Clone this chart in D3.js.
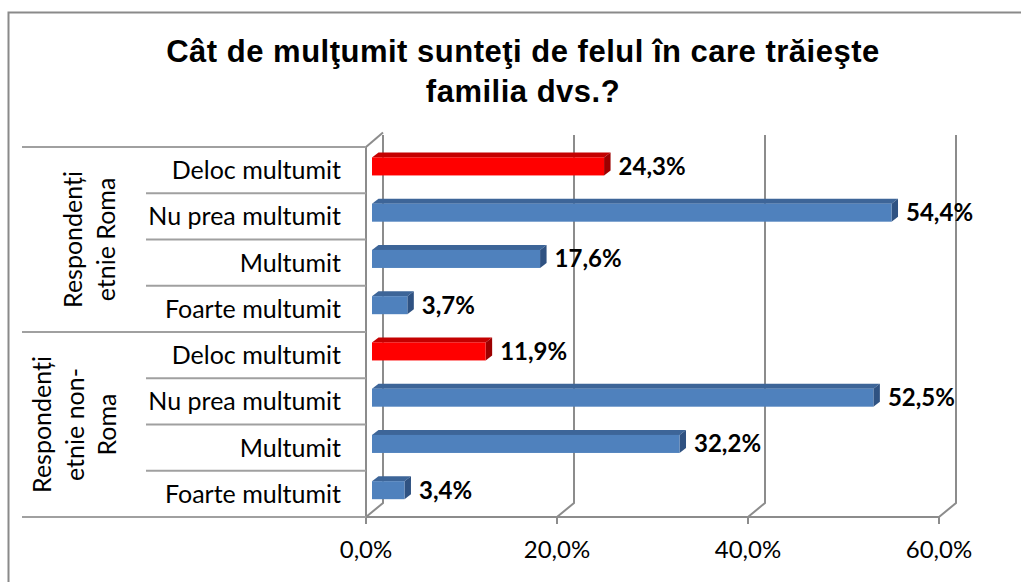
<!DOCTYPE html>
<html><head><meta charset="utf-8">
<script src="https://cdn.jsdelivr.net/npm/d3@7"></script>
<style>
html,body{margin:0;padding:0;background:#fff;}
svg{display:block;}
</style>
</head><body>
<svg id="chart" width="1021" height="582"></svg>
<script>
const titleLines = ["Cât de mulţumit sunteţi de felul în care trăieşte", "familia dvs.?"];
const groups = [["Respondenți", "etnie Roma"], ["Respondenți", "etnie non-", "Roma"]];
const categories = ["Deloc multumit", "Nu prea multumit", "Multumit", "Foarte multumit"];
const romaValues = [24.3, 54.4, 17.6, 3.7];
const nonRomaValues = [11.9, 52.5, 32.2, 3.4];
const xTicks = [0, 20, 40, 60];

(function () {
const rows = [];
[romaValues, nonRomaValues].forEach((vals, g) => {
  categories.forEach((c, i) => rows.push({key: g + "-" + i, group: g, cat: c, value: vals[i], red: i === 0}));
});

const svg = d3.select("#chart");
const FONT = "Lato, 'Open Sans', sans-serif";
const GRID = "#8c8c8c";

svg.append("rect").attr("x", 8.5).attr("y", 12.5).attr("width", 1100).attr("height", 700)
  .attr("fill", "none").attr("stroke", "#8a8a8a").attr("stroke-width", 2);

svg.append("text").attr("text-anchor", "middle").attr("font-family", "'Liberation Sans', Arial, sans-serif")
  .attr("font-weight", "bold").attr("font-size", 31).attr("letter-spacing", 0.5).attr("fill", "#000")
  .selectAll("tspan").data(titleLines).join("tspan")
  .attr("x", 523).attr("y", (d, i) => 62 + i * 40).text(d => d);

const xFront = d3.scaleLinear().domain([0, 60]).range([366, 939]);
const y = d3.scaleBand().domain(rows.map(r => r.key)).range([147, 517]);
const DX = 17, DY = -14;
const BOFF = 6;
const BDX = 6.5, BDY = -5;

const g = svg.append("g");

xTicks.forEach(t => {
  const xb = xFront(t) + DX;
  g.append("path").attr("d", `M${xb},135 L${xb},${517 + DY} L${xFront(t)},517`)
    .attr("fill", "none").attr("stroke", GRID).attr("stroke-width", 2);
  g.append("line").attr("x1", xFront(t)).attr("x2", xFront(t)).attr("y1", 517).attr("y2", 524)
    .attr("stroke", GRID).attr("stroke-width", 2);
});
g.append("line").attr("x1", 366).attr("y1", 147).attr("x2", 366 + DX).attr("y2", 147 + DY - 0.5)
  .attr("stroke", GRID).attr("stroke-width", 2);
g.append("line").attr("x1", xFront(0)).attr("x2", xFront(60)).attr("y1", 517).attr("y2", 517)
  .attr("stroke", GRID).attr("stroke-width", 2);
g.append("line").attr("x1", 366).attr("x2", 366).attr("y1", 147).attr("y2", 524)
  .attr("stroke", GRID).attr("stroke-width", 2);

const bounds = rows.map((r, i) => ({y: y(r.key), major: i % 4 === 0})).concat([{y: 517, major: true}]);
g.selectAll(".sep").data(bounds).join("line")
  .attr("x1", d => d.major ? 22 : 146).attr("x2", 366)
  .attr("y1", d => d.y).attr("y2", d => d.y)
  .attr("stroke", "#a0a0a0").attr("stroke-width", 2);

g.selectAll(".cat").data(rows).join("text")
  .attr("x", 341).attr("y", d => y(d.key) + y.bandwidth() / 2 + 9)
  .attr("text-anchor", "end").attr("font-family", FONT).attr("font-size", 25).attr("fill", "#000")
  .text(d => d.cat);

groups.forEach((lines, gi) => {
  const cy = (y(rows[gi * 4].key) + y(rows[gi * 4 + 3].key) + y.bandwidth()) / 2;
  const xs = lines.length === 2 ? [73, 106] : [42, 75, 107];
  lines.forEach((l, i) => {
    svg.append("text").attr("font-family", FONT).attr("font-size", 25).attr("fill", "#000")
      .attr("text-anchor", "middle")
      .attr("transform", `translate(${xs[i] + 8.5},${cy}) rotate(-90)`)
      .text(l);
  });
});

const xBar = v => xFront(v) + BOFF;
const barTop = d => y(d.key) + y.bandwidth() * 0.225;
const bh = y.bandwidth() * 0.39;
const bars = g.selectAll(".bar").data(rows).join("g");
bars.append("path")
  .attr("d", d => { const x0 = xBar(0), x1 = xBar(d.value), t = barTop(d);
    return `M${x0},${t} L${x1},${t} L${x1 + BDX},${t + BDY} L${x0 + BDX},${t + BDY} Z`; })
  .attr("fill", d => d.red ? "#c40000" : "#3d6598");
bars.append("path")
  .attr("d", d => { const x1 = xBar(d.value), t = barTop(d);
    return `M${x1},${t} L${x1 + BDX},${t + BDY} L${x1 + BDX},${t + bh + BDY} L${x1},${t + bh} Z`; })
  .attr("fill", d => d.red ? "#9c0000" : "#2f5282");
bars.append("rect")
  .attr("x", xBar(0)).attr("y", d => barTop(d))
  .attr("width", d => xBar(d.value) - xBar(0)).attr("height", bh)
  .attr("fill", d => d.red ? "#ff0000" : "#4f81bd");

g.selectAll(".val").data(rows).join("text")
  .attr("x", d => xBar(d.value) + BDX + 8).attr("y", d => barTop(d) + bh - 0.5)
  .attr("font-family", FONT).attr("font-weight", "bold").attr("font-size", 24).attr("fill", "#000")
  .text(d => d3.format(".1f")(d.value).replace(".", ",") + "%");

g.selectAll(".xt").data(xTicks).join("text")
  .attr("x", d => xFront(d)).attr("y", 558).attr("text-anchor", "middle")
  .attr("font-family", FONT).attr("font-size", 24).attr("fill", "#000")
  .text(d => d3.format(".1f")(d).replace(".", ",") + "%");
})();
</script>
</body></html>
